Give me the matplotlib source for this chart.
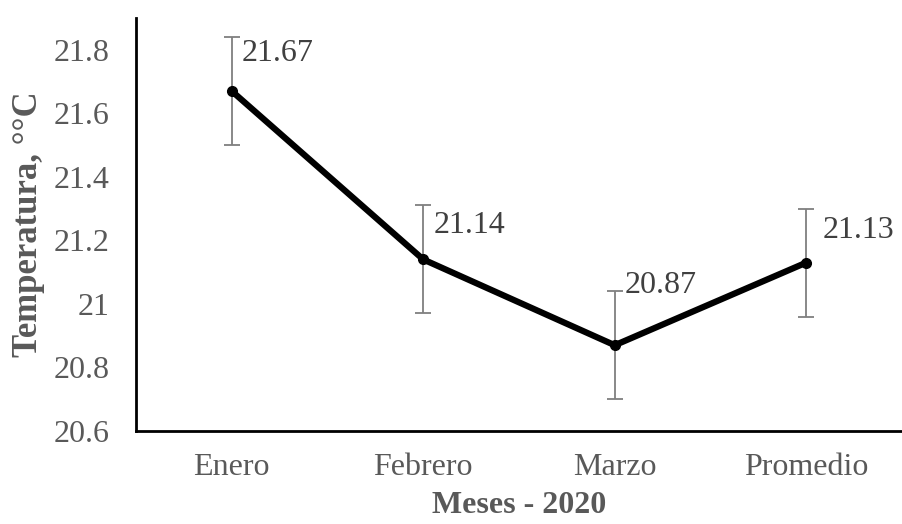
import matplotlib.pyplot as plt

meses = ["Enero", "Febrero", "Marzo", "Promedio"]
temperatura = [21.67, 21.14, 20.87, 21.13]
error = [0.17, 0.17, 0.17, 0.17]

# label offsets in pixels (x, y) relative to each point
offsets = [(10, 38), (10, 34), (10, 60), (16, 32)]

plt.rcParams['font.family'] = ['Liberation Serif', 'DejaVu Serif']

fig = plt.figure(figsize=(9.02, 5.24), dpi=100)
ax = fig.add_axes([136 / 902, 1 - 431 / 524, 766 / 902, 413 / 524])

x = range(len(meses))
ax.errorbar(x, temperatura, yerr=error, fmt='none', ecolor='#7f7f7f',
            elinewidth=1.3, capsize=6, capthick=1.3, zorder=2)
ax.plot(x, temperatura, color='black', lw=4.5, marker='o', ms=7,
        solid_capstyle='round', zorder=3)

for i, (v, off) in enumerate(zip(temperatura, offsets)):
    ax.annotate(f"{v:.2f}", (i, v), xytext=off, textcoords='offset pixels',
                ha='left', va='center', fontsize=23, color='#404040')

ax.set_xlim(-0.5, 3.5)
ax.set_ylim(20.6, 21.9)
ax.set_yticks([20.6, 20.8, 21.0, 21.2, 21.4, 21.6, 21.8])
ax.set_yticklabels(["20.6", "20.8", "21", "21.2", "21.4", "21.6", "21.8"])
ax.set_xticks(list(x))
ax.set_xticklabels(meses)
ax.tick_params(axis='both', length=0, labelsize=23, labelcolor='#595959')
ax.tick_params(axis='x', pad=16)
ax.tick_params(axis='y', pad=19)

for s in ['top', 'right']:
    ax.spines[s].set_visible(False)
for s in ['left', 'bottom']:
    ax.spines[s].set_linewidth(2)
    ax.spines[s].set_color('black')

ax.set_xlabel("Meses - 2020", fontsize=23, fontweight='bold', color='#595959', labelpad=6)
ax.set_ylabel("Temperatura, °°C", fontsize=25, fontweight='bold', color='#595959', labelpad=6)

fig.savefig("out.png", dpi=100)
